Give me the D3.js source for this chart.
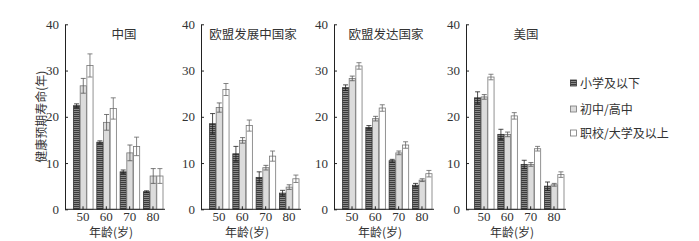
<!DOCTYPE html>
<html>
<head>
<meta charset="utf-8">
<script src="https://cdn.jsdelivr.net/npm/d3@7"></script>
<style>
  body { margin: 0; background: #fff; }
  svg text { fill: #333; }
</style>
</head>
<body>
<div id="chart"></div>
<script>
// Healthy life expectancy by age and education level

const ages = ["50", "60", "70", "80"];
const levels = ["小学及以下", "初中/高中", "职校/大学及以上"];
const regions = ["中国", "欧盟发展中国家", "欧盟发达国家", "美国"];
const yTicks = [0, 10, 20, 30, 40];

// values[region][age] = [low, mid, high]
const chinaVals = [[22.4, 26.7, 31.1], [14.5, 18.8, 21.8], [8.1, 12.2, 13.6], [3.8, 7.2, 7.2]];
const chinaErr  = [[0.4, 1.6, 2.5], [0.3, 1.7, 2.3], [0.4, 1.7, 2.0], [0.2, 1.6, 1.6]];
const euDevingVals = [[18.5, 22.0, 25.9], [12.0, 14.9, 18.1], [6.9, 9.0, 11.5], [3.5, 4.8, 6.6]];
const euDevingErr  = [[2.2, 1.0, 1.3], [1.6, 0.6, 1.2], [1.2, 0.5, 1.1], [0.6, 0.5, 0.8]];
const euDevedVals = [[26.3, 28.3, 31.0], [17.7, 19.6, 21.9], [10.5, 12.2, 13.9], [5.2, 6.3, 7.7]];
const euDevedErr  = [[0.6, 0.5, 0.7], [0.4, 0.5, 0.7], [0.3, 0.4, 0.7], [0.4, 0.3, 0.7]];
const usVals = [[24.1, 24.3, 28.6], [16.2, 16.2, 20.2], [9.7, 9.7, 13.1], [5.0, 5.3, 7.5]];
const usErr  = [[1.3, 0.5, 0.6], [1.1, 0.5, 0.7], [0.9, 0.4, 0.5], [0.9, 0.3, 0.6]];

const allVals = [chinaVals, euDevingVals, euDevedVals, usVals];
const allErr = [chinaErr, euDevingErr, euDevedErr, usErr];

const W = 699, H = 241;
const axisX = [65, 201, 334, 466];
const axisLen = 100;
const yTop = 24.3, yBottom = 209.3;

const svg = d3.select("#chart").append("svg")
    .attr("width", W)
    .attr("height", H);

// hatch pattern for dark bars
const defs = svg.append("defs");
const pat = defs.append("pattern")
    .attr("id", "hatch")
    .attr("patternUnits", "userSpaceOnUse")
    .attr("width", 3)
    .attr("height", 2);
pat.append("rect").attr("width", 3).attr("height", 2).attr("fill", "#8a8a8a");
pat.append("rect").attr("width", 3).attr("height", 1).attr("fill", "#3c3c3c");

const fills = ["url(#hatch)", "#dcdcdc", "#ffffff"];
const strokes = ["#333", "#777", "#777"];
const errColor = ["#222", "#555", "#666"];

const yScale = d3.scaleLinear().domain([0, 40]).range([yBottom, yTop]);

const numFont = "'Liberation Serif', 'DejaVu Serif', serif";
const cjkFont = "'Noto Sans CJK SC', sans-serif";

regions.forEach((region, ri) => {
    const x0 = axisX[ri];
    const g = svg.append("g").attr("transform", `translate(${x0},0)`);

    const xScale = d3.scaleBand()
        .domain(ages)
        .range([8, 98])
        .paddingInner(0.14)
        .paddingOuter(0);

    const xInner = d3.scaleBand()
        .domain(levels)
        .range([0, xScale.bandwidth()]);

    // bars
    ages.forEach((age, ai) => {
        const grp = g.append("g").attr("transform", `translate(${xScale(age)},0)`);
        levels.forEach((lv, li) => {
            const v = allVals[ri][ai][li];
            const e = allErr[ri][ai][li];
            const bx = xInner(lv);
            const bw = xInner.bandwidth();
            grp.append("rect")
                .attr("x", bx + 0.5)
                .attr("y", yScale(v))
                .attr("width", bw - 0.5)
                .attr("height", yBottom - yScale(v))
                .attr("fill", fills[li])
                .attr("stroke", strokes[li])
                .attr("stroke-width", 0.8);
            const cx = bx + bw / 2 + 0.25;
            grp.append("line")
                .attr("x1", cx).attr("x2", cx)
                .attr("y1", yScale(v - e)).attr("y2", yScale(v + e))
                .attr("stroke", errColor[li]).attr("stroke-width", 0.8);
            [v - e, v + e].forEach(t => {
                grp.append("line")
                    .attr("x1", cx - 2.5).attr("x2", cx + 2.5)
                    .attr("y1", yScale(t)).attr("y2", yScale(t))
                    .attr("stroke", errColor[li]).attr("stroke-width", 0.8);
            });
        });
    });

    // y axis
    const yAxis = g.append("g")
        .call(d3.axisLeft(yScale).tickValues(yTicks).tickSizeInner(-3).tickSizeOuter(0).tickPadding(6));
    yAxis.select(".domain").attr("stroke", "#222");
    yAxis.selectAll(".tick line").attr("stroke", "#222");
    yAxis.selectAll("text")
        .attr("font-family", numFont)
        .attr("font-size", 13)
        .attr("fill", "#333");

    // x axis
    const xAxis = g.append("g")
        .attr("transform", `translate(0,${yBottom})`)
        .call(d3.axisBottom(xScale).tickSizeInner(-3).tickSizeOuter(0).tickPadding(2));
    xAxis.select(".domain").attr("stroke", "#222").attr("d", `M0,0H${axisLen}`);
    xAxis.selectAll(".tick line").attr("stroke", "#222");
    xAxis.selectAll("text")
        .attr("font-family", numFont)
        .attr("font-size", 13)
        .attr("fill", "#333");

    // panel title
    g.append("text")
        .attr("x", ri === 3 ? 60 : (ri === 0 ? 59 : 52))
        .attr("y", 39)
        .attr("text-anchor", "middle")
        .attr("font-family", cjkFont)
        .attr("font-size", 12.5)
        .text(region);

    // x axis label
    g.append("text")
        .attr("x", 46)
        .attr("y", 237)
        .attr("text-anchor", "middle")
        .attr("font-family", cjkFont)
        .attr("font-size", 12)
        .text("年龄(岁)");
});

// y axis label
svg.append("text")
    .attr("transform", `translate(46,${(yTop + yBottom) / 2}) rotate(-90)`)
    .attr("text-anchor", "middle")
    .attr("font-family", cjkFont)
    .attr("font-size", 12)
    .text("健康预期寿命(年)");

// legend
const legend = svg.append("g").attr("transform", "translate(570,0)");
const legendY = [83, 109, 133];
levels.forEach((lv, li) => {
    legend.append("rect")
        .attr("x", 0.5)
        .attr("y", legendY[li] - 3)
        .attr("width", 6)
        .attr("height", 6)
        .attr("fill", fills[li])
        .attr("stroke", strokes[li])
        .attr("stroke-width", 0.8);
    legend.append("text")
        .attr("x", 10)
        .attr("y", legendY[li] + 4.5)
        .attr("font-family", cjkFont)
        .attr("font-size", 12)
        .text(lv);
});
</script>
</body>
</html>
